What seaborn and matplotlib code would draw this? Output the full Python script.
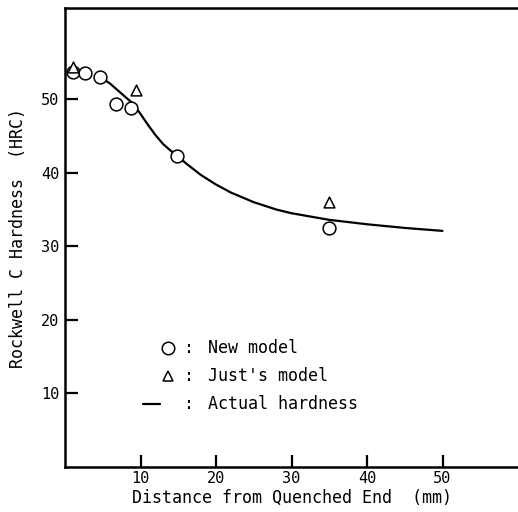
import matplotlib
matplotlib.use("Agg")
import matplotlib.pyplot as plt
import seaborn as sns
import pandas as pd

# Jominy end-quench hardness profile
new_x = [1.0, 2.6, 4.7, 6.8, 8.8, 14.9, 35.0]
new_hrc = [53.7, 53.5, 53.0, 49.3, 48.8, 42.3, 32.5]

just_x = [1.1, 9.4, 35.0]
just_hrc = [54.4, 51.3, 36.0]

actual_x = [5, 6, 7, 8, 9, 10, 11, 12, 13, 14, 15, 16, 18, 20, 22, 25, 28, 30, 35, 40, 45, 50]
actual_hrc = [52.8, 52.1, 51.2, 50.3, 49.4, 48.0, 46.5, 45.1, 43.9, 43.0, 42.2, 41.3,
              39.7, 38.4, 37.3, 36.0, 35.0, 34.5, 33.6, 33.0, 32.5, 32.1]

x_ticks = [10, 20, 30, 40, 50]
y_ticks = [10, 20, 30, 40, 50]

sns.set_theme(style="white")
plt.rcParams["font.family"] = ["DejaVu Sans Mono", "DejaVu Sans"]
plt.rcParams["text.color"] = "black"
plt.rcParams["axes.labelcolor"] = "black"

fig = plt.figure(figsize=(5.18, 5.12), dpi=100)
ax = fig.add_axes([65 / 518, 45 / 512, 453 / 518, 459 / 512])

actual = pd.DataFrame({"x": actual_x, "hrc": actual_hrc})
sns.lineplot(data=actual, x="x", y="hrc", ax=ax, color="black", linewidth=1.6)

new = pd.DataFrame({"x": new_x, "hrc": new_hrc})
sns.scatterplot(data=new, x="x", y="hrc", ax=ax, marker="o", s=85,
                facecolor="white", edgecolor="black", linewidth=1.1, zorder=3)

just = pd.DataFrame({"x": just_x, "hrc": just_hrc})
sns.scatterplot(data=just, x="x", y="hrc", ax=ax, marker="^", s=60,
                facecolor="white", edgecolor="black", linewidth=1.1, zorder=3)

ax.set_xlim(0, 60)
ax.set_ylim(0, 62.4)
ax.set_xticks(x_ticks)
ax.set_yticks(y_ticks)
ax.tick_params(axis="both", which="major", left=True, bottom=True,
               direction="in", length=9, width=1.6, color="black",
               labelsize=11, pad=4, labelcolor="black")
ax.tick_params(axis="x", pad=3)

for side in ["left", "bottom", "top"]:
    ax.spines[side].set_visible(True)
    ax.spines[side].set_color("black")
    ax.spines[side].set_linewidth(1.8)
ax.spines["right"].set_visible(False)

ax.set_xlabel("Distance from Quenched End  (mm)", fontsize=12, labelpad=2,
              color="black")
ax.set_ylabel("Rockwell C Hardness  (HRC)", fontsize=12, labelpad=10,
              color="black")

# key
ax.plot([0.227], [0.259], transform=ax.transAxes, marker="o", markersize=9,
        markerfacecolor="white", markeredgecolor="black", markeredgewidth=1.1)
ax.plot([0.227], [0.198], transform=ax.transAxes, marker="^", markersize=7,
        markerfacecolor="white", markeredgecolor="black", markeredgewidth=1.1)
ax.plot([0.172, 0.210], [0.137, 0.137], transform=ax.transAxes, color="black",
        linewidth=1.6)
for yk, label in [(0.259, "New model"), (0.198, "Just's model"), (0.137, "Actual hardness")]:
    ax.text(0.262, yk, ":", transform=ax.transAxes, fontsize=12, va="center",
            color="black")
    ax.text(0.316, yk, label, transform=ax.transAxes, fontsize=12, va="center",
            color="black")

fig.savefig("out.png", dpi=100, facecolor="white")
